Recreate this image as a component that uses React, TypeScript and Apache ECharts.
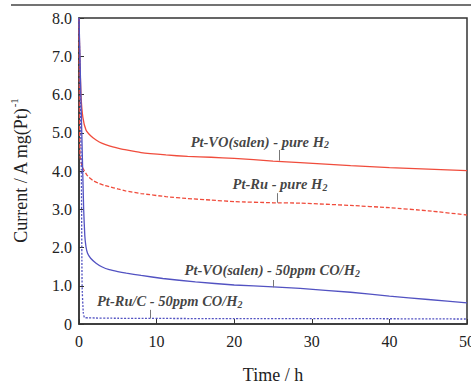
import React, { useEffect, useRef } from "react";
import * as echarts from "echarts";

// ---- data (time in h, current in A mg(Pt)^-1) ----
const tVOpure = [0, 0.1, 0.25, 0.5, 0.9, 1.5, 2.2, 3, 4, 5, 6.1, 8, 11.2, 14, 17, 20, 25, 28.5, 35, 40, 45, 50];
const vVOpure = [8.0, 7.0, 6.0, 5.4, 5.07, 4.92, 4.81, 4.72, 4.65, 4.6, 4.55, 4.48, 4.42, 4.38, 4.36, 4.33, 4.26, 4.22, 4.14, 4.09, 4.05, 4.01];

const tRuPure = [0, 0.05, 0.13, 0.4, 0.7, 1.0, 1.3, 1.8, 2.5, 3.2, 3.9, 5, 6, 8, 11.2, 14, 17, 20, 25, 28.5, 35, 40, 45, 50];
const vRuPure = [8.0, 6.0, 4.4, 4.12, 4.0, 3.9, 3.83, 3.75, 3.68, 3.63, 3.59, 3.53, 3.48, 3.41, 3.33, 3.28, 3.24, 3.2, 3.17, 3.16, 3.1, 3.04, 2.96, 2.85];

const tVOco = [0, 0.3, 0.6, 0.75, 0.9, 1.1, 1.5, 2.2, 3, 3.9, 5, 6.1, 8, 10.8, 15, 20, 25, 28.5, 35, 40, 45, 50];
const vVOco = [8.0, 5.5, 3.0, 2.3, 2.02, 1.85, 1.72, 1.59, 1.49, 1.42, 1.37, 1.33, 1.27, 1.19, 1.1, 1.02, 0.97, 0.93, 0.83, 0.73, 0.64, 0.55];

const tRuCco = [0, 0.3, 0.4, 0.55, 0.7, 1.2, 5, 20, 35, 50];
const vRuCco = [8.0, 4.0, 1.0, 0.3, 0.17, 0.16, 0.15, 0.14, 0.14, 0.13];

const xTicks = [0, 10, 20, 30, 40, 50];
const yTicks = [0, 1, 2, 3, 4, 5, 6, 7, 8];

// annotations: label anchor [t, v] and pointer line [t, vTop, vBottom]
const annVOpure = { text: "Pt-VO(salen) - pure H{sub|2}", at: [23.3, 4.76], tick: [25.8, 4.55, 4.27] };
const annRuPure = { text: "Pt-Ru - pure H{sub|2}", at: [25.9, 3.65], tick: [25.5, 3.42, 3.17] };
const annVOco = { text: "Pt-VO(salen) - 50ppm CO/H{sub|2}", at: [24.9, 1.41], tick: [25.0, 1.15, 0.96] };
const annRuCco = { text: "Pt-Ru/C - 50ppm CO/H{sub|2}", at: [11.7, 0.6], tick: [9.15, 0.37, 0.15] };

const RED = "#f04c3c";
const BLUE = "#5252c2";
const SERIF = "Liberation Serif";

const zip = (t: number[], v: number[]) => t.map((x, i) => [x, v[i]]);

export default function App() {
  const ref = useRef<HTMLDivElement>(null);
  useEffect(() => {
    document.body.style.margin = "0";
    const chart = echarts.init(ref.current!, undefined, { renderer: "svg" });
    const anns = [annVOpure, annRuPure, annVOco, annRuCco];
    const lineSeries = (name: string, data: number[][], color: string, type: any) => ({
      name,
      type: "line",
      data,
      showSymbol: false,
      symbol: "none",
      smooth: 0.15,
      lineStyle: { color, width: 1.3, type },
      z: 3,
    });
    chart.setOption({
      animation: false,
      grid: {
        left: 79,
        top: 18,
        right: 4,
        bottom: 61,
        containLabel: false,
        outerBoundsMode: "none",
        show: true,
        borderColor: "#333",
        borderWidth: 1.5,
      },
      graphic: [
        { type: "line", shape: { x1: 11, y1: 5, x2: 471, y2: 5 }, style: { stroke: "#444", lineWidth: 1.5 } },
      ],
      xAxis: {
        type: "value",
        min: 0,
        max: 50,
        interval: 10,
        name: "Time / h",
        nameLocation: "middle",
        nameGap: 42,
        nameTextStyle: { fontFamily: SERIF, fontSize: 18, color: "#222" },
        axisLine: { lineStyle: { color: "#333", width: 1.5 } },
        axisTick: { inside: true, length: 5, lineStyle: { color: "#333" } },
        axisLabel: { fontFamily: SERIF, fontSize: 16, color: "#222", margin: 9, showMaxLabel: true },
        splitLine: { show: false },
      },
      yAxis: {
        type: "value",
        min: 0,
        max: 8,
        interval: 1,
        name: "Current / A mg(Pt){sup|-1}",
        nameLocation: "middle",
        nameGap: 45,
        nameTextStyle: {
          fontFamily: SERIF,
          fontSize: 18,
          color: "#222",
          rich: { sup: { fontFamily: SERIF, fontSize: 11, color: "#222", verticalAlign: "top", lineHeight: 26 } },
        },
        axisLine: { show: true, lineStyle: { color: "#333", width: 1.5 } },
        axisTick: { show: true, inside: true, length: 5, lineStyle: { color: "#333" } },
        axisLabel: {
          fontFamily: SERIF,
          fontSize: 16,
          color: "#222",
          margin: 7,
          formatter: (v: number) => (v === 0 ? "0" : v.toFixed(1)),
        },
        splitLine: { show: false },
      },
      series: [
        lineSeries("Pt-VO(salen) - pure H2", zip(tVOpure, vVOpure), RED, "solid"),
        lineSeries("Pt-Ru - pure H2", zip(tRuPure, vRuPure), RED, [4, 2]),
        lineSeries("Pt-VO(salen) - 50ppm CO/H2", zip(tVOco, vVOco), BLUE, "solid"),
        lineSeries("Pt-Ru/C - 50ppm CO/H2", zip(tRuCco, vRuCco), BLUE, [2, 1.5]),
        {
          type: "scatter",
          silent: true,
          symbolSize: 0,
          data: anns.map((a) => ({ value: a.at, text: a.text })),
          label: {
            show: true,
            position: "inside",
            formatter: (p: any) => p.data.text,
            fontFamily: SERIF,
            fontSize: 14.5,
            fontWeight: "bold",
            fontStyle: "italic",
            color: "#111",
            rich: {
              sub: { fontFamily: SERIF, fontSize: 10, fontWeight: "bold", fontStyle: "italic", color: "#111", verticalAlign: "bottom", padding: [6, 0, 0, 0] },
            },
          },
          markLine: {
            silent: true,
            symbol: ["none", "none"],
            label: { show: false },
            lineStyle: { color: "#777", width: 1, type: "solid" },
            data: anns.map((a) => [{ coord: [a.tick[0], a.tick[1]] }, { coord: [a.tick[0], a.tick[2]] }]),
          },
          z: 4,
        },
      ],
    });
    return () => chart.dispose();
  }, []);
  return <div ref={ref} style={{ position: "absolute", left: 0, top: 0, width: 471, height: 385 }} />;
}
